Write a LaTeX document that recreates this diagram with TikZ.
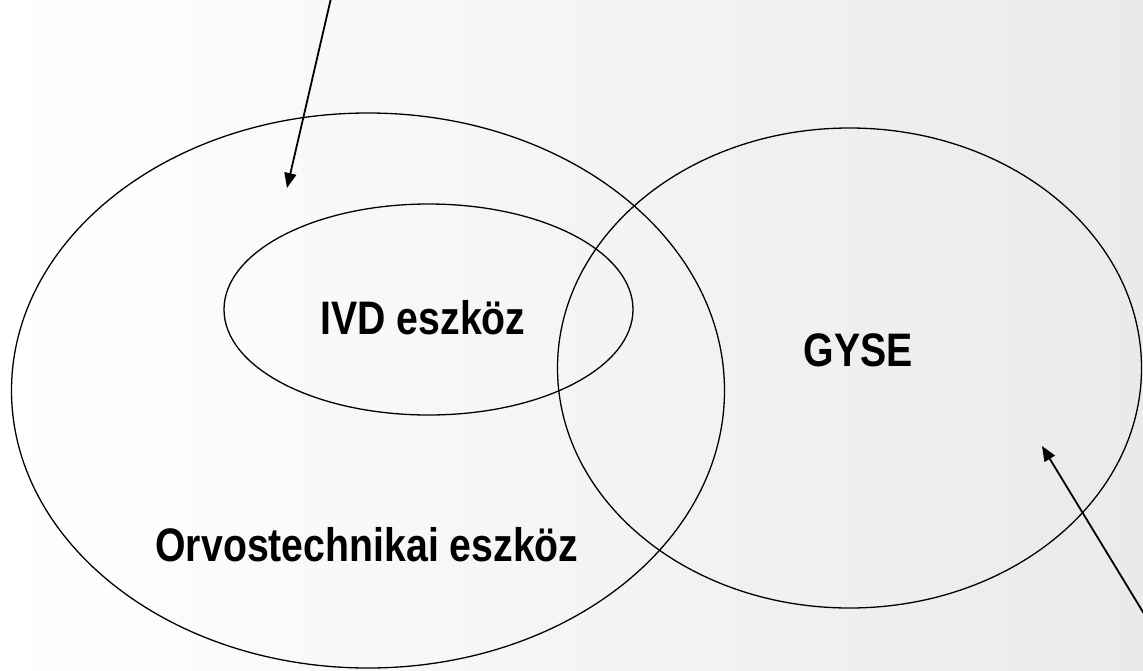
\documentclass[tikz,border=0pt]{standalone}
\usepackage{fontspec}
\usepackage{graphicx}
\setmainfont{Liberation Sans}
\usetikzlibrary{shapes.geometric,arrows.meta}
\definecolor{bgright}{RGB}{234,234,234}
\tikzset{
  setring/.style={draw=black, line width=1.3pt, ellipse, inner sep=0pt},
  pointer/.style={draw=black, line width=1.8pt, -{Triangle[length=15pt,width=12pt]}},
  setlabel/.style={inner sep=0pt, font=\fontsize{47}{56}\selectfont\bfseries}
}
\newcommand{\narrowtext}[1]{\scalebox{0.835}[1]{#1}}
\begin{document}
\begin{tikzpicture}[x=1pt,y=-1pt]
  % page background with a soft horizontal gradient
  \shade[left color=white, right color=bgright] (0,0) rectangle (1143,670);
  \useasboundingbox (0,0) rectangle (1143,670);

  % the three sets
  \node[setring, minimum width=713pt, minimum height=555pt] (med) at (368,390.5) {};
  \node[setring, minimum width=409pt, minimum height=211pt] (ivd) at (428.5,309.5) {};
  \node[setring, minimum width=584pt, minimum height=480pt] (gyse) at (849.5,368) {};

  % labels
  \node[setlabel] (ivdlabel) at (423,318) {\narrowtext{IVD eszköz}};
  \node[setlabel] (gyselabel) at (858,350) {\narrowtext{GYSE}};
  \node[setlabel] (medlabel) at (367,545) {\narrowtext{Orvostechnikai eszköz}};

  % pointers entering from the page edges
  \coordinate (topfree) at (331.5,-4);
  \coordinate (toptip) at (287,188);
  \coordinate (rightfree) at (1146,617);
  \coordinate (righttip) at (1042,446);
  \draw[pointer] (topfree) -- (toptip);
  \draw[pointer] (rightfree) -- (righttip);
\end{tikzpicture}
\end{document}
